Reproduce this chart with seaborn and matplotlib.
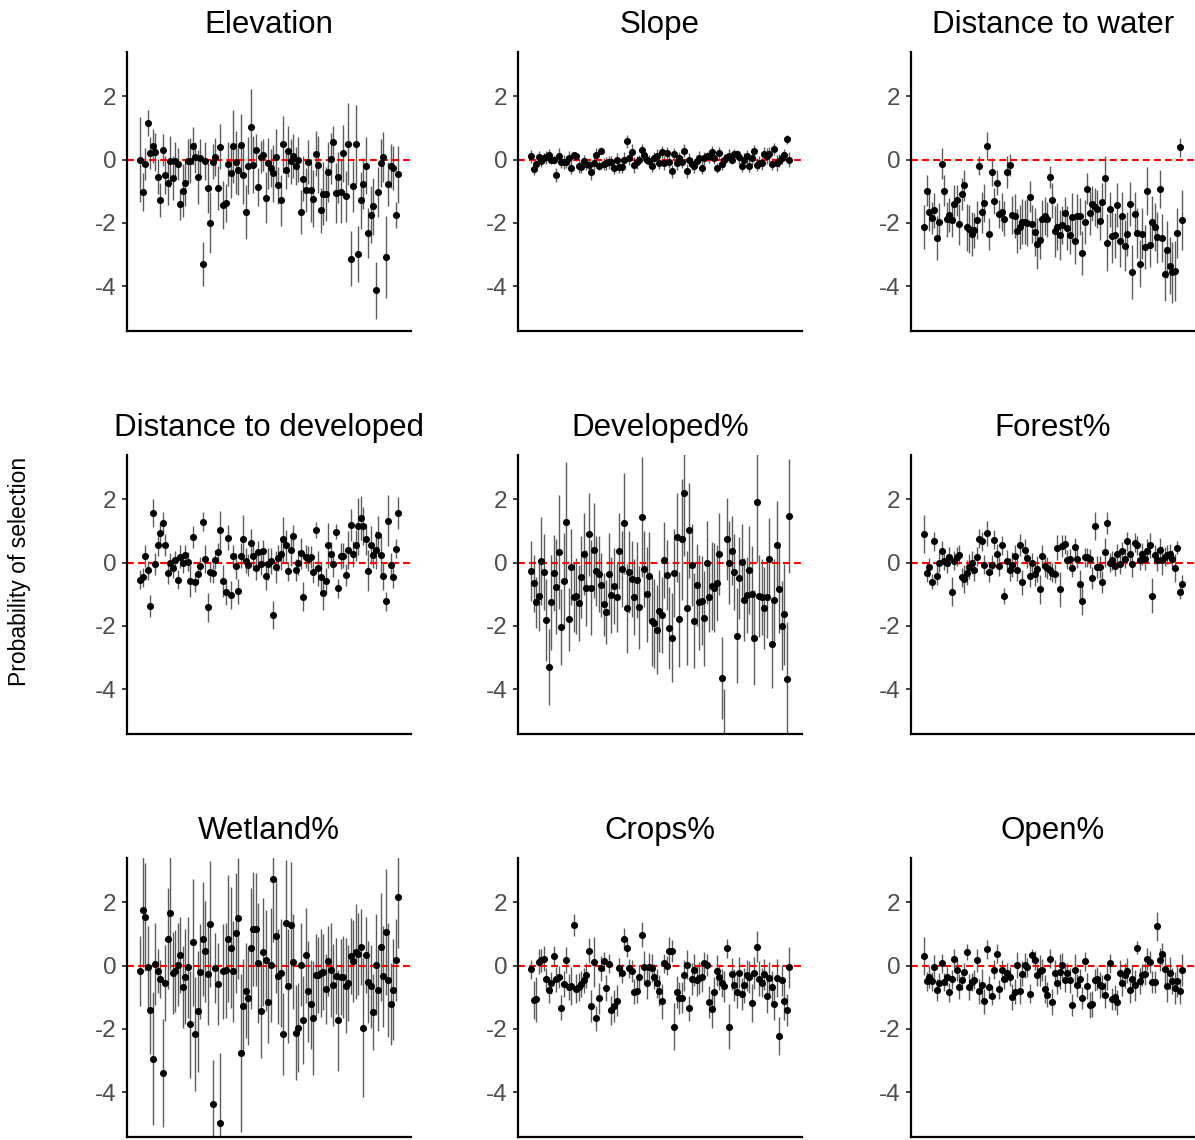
import numpy as np
import pandas as pd
import matplotlib
matplotlib.use("Agg")
import matplotlib.pyplot as plt
import seaborn as sns

# Panel titles (covariates)
titles = ["Elevation", "Slope", "Distance to water",
          "Distance to developed", "Developed%", "Forest%",
          "Wetland%", "Crops%", "Open%"]

# Per-individual selection coefficients and 95% CI half-widths
elevation_est = [
    0.0, -1.02, -0.15, 1.16, 0.2, 0.43, 0.25, -0.54, -1.28, 0.3,
    -0.48, -0.75, -0.06, -0.58, -0.06, -0.14, -1.42, -0.98, -0.73, -0.05,
    -0.03, 0.43, 0.07, -0.54, 0.05, -3.3, -0.05, -0.9, -1.99, -0.07,
    0.07, -0.9, 0.41, -1.44, -1.38, -0.15, -0.41, 0.42, -0.09, -0.33,
    0.45, -0.49, -1.65, -0.2, 1.04, -0.17, 0.3, -0.86, 0.09, 0.14,
    -1.2, -0.12, -0.28, -0.43, 0.07, -0.82, -1.29, 0.48, -0.33, 0.26,
    -0.06, 0.12, -0.21, 0.0, -1.65, -0.6, -0.97, -0.07, -0.97, -1.24,
    0.19, -0.17, -1.61, -1.08, -1.08, -0.38, 0.03, 0.56, -1.07, -0.56,
    -1.01, 0.2, -1.16, 0.49, -3.13, -0.85, 0.48, -2.98, -1.29, -0.76,
    -0.2, -2.32, -1.75, -1.47, -4.13, -1.03, -0.11, 0.08, -3.08, -0.78,
    -0.2, -0.26, -1.75, -0.46]
elevation_err = [
    1.35, 0.6, 0.5, 0.4, 0.5, 0.55, 0.6, 0.55, 0.55, 0.5,
    0.6, 0.7, 0.8, 0.7, 0.6, 0.5, 0.5, 0.85, 0.75, 0.7,
    0.7, 0.6, 0.5, 0.85, 0.6, 0.7, 0.6, 0.8, 0.95, 0.55,
    0.6, 0.7, 0.7, 0.75, 0.6, 0.7, 0.8, 1.15, 1.0, 0.8,
    1.0, 0.9, 0.85, 0.9, 1.2, 0.9, 0.5, 0.6, 0.5, 0.5,
    0.8, 0.8, 0.6, 0.9, 0.9, 0.6, 0.8, 0.9, 0.6, 0.8,
    0.7, 0.7, 0.6, 0.7, 0.7, 0.7, 0.7, 0.7, 1.0, 0.9,
    0.7, 0.9, 0.7, 1.0, 0.85, 0.95, 0.8, 0.5, 0.95, 0.8,
    1.0, 0.9, 0.8, 1.3, 0.88, 0.8, 1.25, 0.88, 0.9, 0.8,
    0.9, 0.8, 0.9, 0.9, 0.9, 0.8, 0.75, 0.8, 1.3, 0.7,
    0.7, 0.7, 0.4, 0.9]

slope_est = [
    0.1, -0.3, -0.15, 0.07, -0.03, 0.05, 0.07, 0.13, 0.0, 0.0,
    -0.5, 0.12, -0.08, -0.07, -0.08, 0.05, -0.26, 0.13, 0.1, -0.21,
    -0.24, -0.05, -0.14, -0.18, -0.39, -0.12, 0.15, -0.19, 0.28, -0.14,
    -0.12, -0.09, -0.09, -0.26, 0.0, -0.24, -0.22, 0.0, 0.58, 0.04,
    0.23, -0.16, -0.09, 0.0, 0.3, 0.14, 0.0, -0.05, -0.2, 0.04,
    0.12, -0.12, 0.24, -0.1, 0.21, -0.07, -0.37, 0.18, -0.1, 0.05,
    -0.08, 0.28, -0.37, 0.0, -0.14, -0.21, -0.03, 0.06, -0.26, 0.04,
    0.1, 0.1, 0.24, 0.05, -0.26, 0.2, -0.14, -0.02, 0.07, 0.12,
    0.0, 0.18, 0.16, 0.07, -0.2, 0.0, 0.1, -0.19, 0.04, 0.26,
    -0.16, -0.1, -0.12, 0.16, 0.12, 0.16, -0.14, 0.33, -0.12, -0.03,
    0.05, 0.14, 0.64, 0.0]
slope_err = [
    0.2, 0.18, 0.15, 0.2, 0.2, 0.15, 0.2, 0.2, 0.15, 0.15,
    0.22, 0.25, 0.2, 0.22, 0.2, 0.22, 0.2, 0.12, 0.15, 0.2,
    0.2, 0.2, 0.2, 0.2, 0.25, 0.2, 0.2, 0.15, 0.12, 0.2,
    0.2, 0.2, 0.2, 0.2, 0.22, 0.2, 0.2, 0.25, 0.2, 0.2,
    0.25, 0.25, 0.2, 0.15, 0.2, 0.2, 0.15, 0.2, 0.2, 0.2,
    0.2, 0.18, 0.2, 0.22, 0.2, 0.2, 0.2, 0.2, 0.22, 0.2,
    0.2, 0.2, 0.22, 0.2, 0.2, 0.2, 0.18, 0.2, 0.2, 0.2,
    0.15, 0.2, 0.2, 0.2, 0.15, 0.2, 0.2, 0.2, 0.15, 0.2,
    0.15, 0.15, 0.15, 0.2, 0.2, 0.2, 0.2, 0.2, 0.2, 0.2,
    0.2, 0.2, 0.2, 0.25, 0.25, 0.25, 0.2, 0.2, 0.25, 0.2,
    0.2, 0.2, 0.15, 0.25]

water_est = [
    -2.14, -0.98, -1.67, -1.85, -1.61, -2.48, -1.96, -0.13, -0.98, -1.89,
    -1.75, -1.9, -1.42, -1.29, -2.05, -1.08, -0.82, -2.14, -2.2, -2.36,
    -2.24, -1.9, -0.2, -1.67, -1.36, 0.43, -2.36, -0.39, -1.31, -0.73,
    -1.72, -1.67, -1.87, -0.39, -0.18, -1.74, -1.79, -2.27, -2.14, -1.96,
    -1.98, -1.99, -1.17, -2.03, -2.29, -2.66, -2.54, -1.89, -1.79, -1.89,
    -0.54, -1.29, -2.27, -2.12, -2.38, -2.08, -1.69, -2.17, -2.38, -1.82,
    -2.59, -1.79, -1.8, -2.96, -1.97, -0.92, -1.68, -1.4, -1.49, -1.57,
    -1.93, -1.35, -0.58, -2.63, -1.57, -2.42, -2.4, -1.43, -2.59, -1.77,
    -2.72, -2.36, -1.41, -3.56, -1.73, -2.32, -3.29, -2.34, -2.76, -1.0,
    -2.69, -1.96, -2.13, -2.46, -0.92, -2.48, -3.62, -2.85, -3.36, -3.57,
    -3.53, -2.32, 0.39, -1.9]
water_err = [
    0.7, 0.5, 0.6, 0.5, 0.55, 0.7, 0.6, 0.5, 0.5, 0.55,
    0.55, 0.55, 0.6, 0.5, 0.65, 0.5, 0.5, 0.75, 0.75, 0.7,
    0.55, 0.6, 0.3, 0.65, 0.6, 0.45, 0.5, 0.45, 0.4, 0.4,
    0.45, 0.6, 0.55, 0.5, 0.35, 0.6, 0.7, 0.7, 0.7, 0.7,
    0.7, 0.75, 0.5, 0.6, 0.75, 0.8, 0.6, 0.6, 0.6, 0.55,
    0.35, 0.55, 0.8, 0.75, 0.8, 0.6, 0.5, 0.7, 0.6, 0.75,
    0.7, 0.7, 0.6, 0.7, 0.7, 0.5, 0.7, 0.55, 0.6, 0.6,
    0.6, 0.6, 0.7, 0.9, 0.55, 0.85, 0.7, 0.7, 0.8, 0.75,
    0.8, 0.7, 0.7, 0.85, 0.7, 0.8, 0.75, 0.8, 0.7, 0.75,
    0.7, 0.8, 0.75, 0.8, 0.6, 0.75, 0.85, 0.9, 0.9, 0.95,
    0.95, 0.8, 0.3, 0.95]

dist_dev_est = [
    -0.55, -0.47, 0.22, -0.24, -1.37, 1.56, -0.05, 0.56, 0.93, 1.24,
    0.56, -0.34, 0.0, -0.18, 0.08, -0.54, 0.19, -0.02, 0.24, 0.03,
    -0.58, 0.8, -0.63, -0.35, -0.11, 1.29, 0.12, -1.42, -0.31, -0.34,
    0.09, 0.33, 1.03, -0.58, -0.94, 0.79, -1.02, 0.21, -0.11, -0.91,
    0.22, 0.75, 0.06, -0.09, 0.61, 0.21, -0.16, 0.32, -0.05, 0.37,
    -0.41, -0.05, 0.05, -1.65, -0.14, 0.14, 0.28, 0.73, 0.54, -0.28,
    0.4, 0.85, -0.23, 0.0, 0.29, -1.08, 0.19, 0.12, 0.18, -0.31,
    1.02, -0.18, -0.47, -0.95, -0.58, 0.54, 0.26, -0.05, 0.98, -0.81,
    0.21, 0.22, -0.39, 0.39, 1.19, 0.27, 0.54, 1.15, 1.4, 1.15,
    0.73, -0.26, 0.56, 0.24, 0.39, 0.87, 0.24, -0.43, -1.23, 1.32,
    -0.09, -0.46, 0.44, 1.56]
dist_dev_err = [
    0.3, 0.3, 0.35, 0.3, 0.35, 0.45, 0.35, 0.35, 0.35, 0.35,
    0.35, 0.35, 0.3, 0.3, 0.3, 0.3, 0.35, 0.3, 0.3, 0.3,
    0.5, 0.35, 0.3, 0.3, 0.3, 0.3, 0.45, 0.45, 0.3, 0.3,
    0.3, 0.3, 0.6, 0.5, 0.4, 0.4, 0.45, 0.35, 0.4, 0.4,
    0.4, 0.75, 0.4, 0.35, 0.45, 0.45, 0.4, 0.35, 0.35, 0.35,
    0.45, 0.5, 0.4, 0.45, 0.5, 0.4, 0.5, 0.7, 0.5, 0.3,
    0.5, 0.35, 0.35, 0.4, 0.5, 0.45, 0.35, 0.4, 0.35, 0.35,
    0.25, 0.55, 0.5, 0.55, 0.4, 0.7, 0.4, 0.4, 0.25, 0.3,
    0.4, 0.4, 0.35, 0.6, 0.5, 0.4, 0.5, 0.9, 0.7, 0.6,
    0.5, 0.65, 0.6, 0.4, 0.6, 0.6, 0.6, 0.45, 0.3, 0.8,
    0.4, 0.35, 0.3, 0.5]

developed_est = [
    -0.27, -0.66, -1.26, -1.05, 0.05, -0.31, -1.82, -3.31, -1.25, -0.34,
    -0.77, 0.33, -2.05, -0.57, 1.29, -1.8, -0.14, -1.1, -1.06, -1.27,
    -0.46, 0.26, -0.79, 0.89, -0.79, 0.39, -0.26, -0.35, -0.71, -1.32,
    -1.56, -0.37, -1.04, -0.73, -1.09, 0.36, -0.2, 1.24, -1.45, -0.29,
    -0.52, -1.08, -0.54, -1.42, 1.43, -0.2, -1.0, -0.44, -1.86, -1.92,
    -2.12, -1.54, -1.66, 0.07, -0.39, -2.07, -2.37, -0.33, 0.8, -1.8,
    0.73, 2.2, -1.45, 1.02, -0.07, -1.84, -0.71, -1.26, -1.2, -1.76,
    0.0, -1.1, -0.74, -0.79, -0.64, 0.28, -3.66, -5.6, 0.75, 0.0,
    0.38, -0.31, -2.31, -0.49, 0.03, -1.17, -1.04, -0.23, -0.98, -2.37,
    1.93, -1.05, -1.1, -1.43, -1.08, 0.11, -2.58, -1.18, 0.54, -0.83,
    -1.99, -1.63, -3.68, 1.47]
developed_err = [
    0.95, 0.9, 0.8, 1.1, 1.4, 1.2, 1.3, 1.2, 1.5, 1.2,
    1.5, 1.8, 1.2, 1.5, 1.9, 1.0, 1.2, 1.1, 1.2, 1.2,
    1.3, 1.3, 1.2, 1.3, 1.5, 1.5, 1.1, 1.2, 1.0, 1.0,
    1.0, 1.3, 1.2, 1.2, 1.1, 1.2, 1.2, 1.6, 1.4, 1.3,
    1.2, 1.2, 1.2, 1.3, 1.9, 1.2, 1.5, 1.4, 1.4, 1.4,
    1.4, 1.3, 1.2, 1.2, 1.1, 1.3, 1.4, 1.4, 1.4, 1.5,
    1.9, 2.0, 1.8, 1.5, 1.3, 1.5, 1.3, 1.5, 1.4, 1.5,
    1.3, 1.1, 1.4, 1.4, 1.2, 1.3, 1.3, 1.6, 1.3, 1.3,
    1.1, 1.2, 1.5, 1.3, 1.2, 1.3, 1.2, 1.4, 1.5, 1.5,
    1.9, 1.3, 1.2, 1.3, 1.3, 1.3, 1.4, 1.3, 1.4, 1.4,
    1.4, 1.6, 1.8, 1.8]

forest_est = [
    0.91, -0.32, -0.15, -0.6, 0.68, -0.41, 0.0, 0.38, 0.05, -0.02,
    0.18, -0.92, 0.05, 0.19, 0.24, -0.47, -0.52, -0.32, -0.13, 0.0,
    -0.23, 0.18, 0.75, 0.68, -0.07, 0.92, -0.31, -0.07, 0.72, 0.28,
    -0.12, 0.55, -1.05, 0.05, -0.22, -0.07, 0.22, -0.22, 0.56, -0.62,
    0.39, 0.14, -0.43, 0.0, -0.35, -0.2, -0.85, 0.2, -0.12, -0.18,
    -0.25, -0.32, -0.35, 0.47, -0.85, 0.51, 0.58, 0.09, 0.12, -0.16,
    0.48, 0.12, -0.68, -1.2, 0.16, 0.16, 0.12, -0.48, 1.16, -0.15,
    -0.13, -0.62, 0.32, 1.24, 0.0, 0.07, -0.11, 0.28, -0.05, 0.35,
    0.12, 0.68, 0.28, -0.05, 0.62, 0.54, 0.07, 0.28, 0.11, 0.38,
    0.54, -1.05, 0.24, 0.09, 0.39, 0.07, 0.18, 0.24, 0.28, 0.11,
    -0.18, 0.47, -0.94, -0.68]
forest_err = [
    0.6, 0.3, 0.3, 0.25, 0.3, 0.3, 0.3, 0.3, 0.3, 0.3,
    0.3, 0.45, 0.3, 0.3, 0.3, 0.3, 0.45, 0.4, 0.4, 0.35,
    0.35, 0.3, 0.3, 0.3, 0.3, 0.4, 0.3, 0.3, 0.3, 0.3,
    0.3, 0.3, 0.25, 0.35, 0.35, 0.4, 0.35, 0.35, 0.35, 0.4,
    0.35, 0.3, 0.35, 0.3, 0.4, 0.4, 0.45, 0.35, 0.35, 0.35,
    0.3, 0.3, 0.3, 0.4, 0.55, 0.35, 0.3, 0.3, 0.3, 0.3,
    0.3, 0.3, 0.45, 0.45, 0.3, 0.3, 0.3, 0.35, 0.45, 0.35,
    0.35, 0.35, 0.45, 0.35, 0.3, 0.3, 0.3, 0.3, 0.3, 0.3,
    0.3, 0.3, 0.35, 0.4, 0.3, 0.3, 0.3, 0.35, 0.35, 0.35,
    0.4, 0.55, 0.3, 0.35, 0.4, 0.45, 0.3, 0.3, 0.3, 0.3,
    0.45, 0.2, 0.2, 0.3]

wetland_est = [
    -0.18, 1.75, 1.53, -0.05, -1.4, -2.94, 0.06, -0.18, -0.41, -3.4,
    -0.54, 0.85, 1.66, -0.24, -0.18, 0.03, 0.32, -0.68, -0.35, -0.06,
    -1.86, 0.73, -2.16, -1.45, -0.2, 0.85, 0.45, -0.28, 1.32, -4.38,
    -0.07, -0.59, -4.97, -0.18, -0.15, 0.85, 0.57, -0.18, 1.03, 1.49,
    -2.77, -1.29, -0.8, -1.01, 0.54, 1.15, 1.14, 0.07, -1.43, 0.43,
    0.16, -1.16, 0.01, 2.74, 0.94, -0.34, -0.23, -2.16, 1.34, -0.66,
    1.28, 0.12, -2.12, -1.96, 0.03, -1.72, 0.33, -0.81, -1.23, -1.67,
    -0.29, -0.31, -0.24, -0.21, -0.74, 0.14, -0.14, -0.61, -0.33, -1.73,
    -0.35, -0.37, -0.64, -0.54, 0.29, 0.14, 0.44, 0.37, 0.6, -1.96,
    0.32, -0.52, -0.66, -1.46, 0.03, -0.77, 0.58, -0.34, 1.06, -0.46,
    -1.21, -0.76, 0.18, 2.17]
wetland_err = [
    1.1, 1.8, 1.7, 1.3, 1.4, 2.1, 1.3, 0.7, 0.6, 1.7,
    1.2, 1.6, 1.8, 1.3, 1.3, 1.3, 1.2, 1.3, 1.5, 1.6,
    1.7, 2.0, 1.8, 1.9, 1.5, 1.8, 1.6, 1.6, 2.0, 1.4,
    1.1, 1.3, 2.2, 1.5, 1.5, 2.0, 1.9, 1.6, 1.9, 1.9,
    2.5, 1.5, 1.5, 1.5, 1.9, 1.8, 1.8, 1.9, 1.5, 1.7,
    1.6, 1.3, 1.8, 2.0, 1.8, 1.5, 1.7, 1.3, 2.0, 1.8,
    2.0, 1.5, 1.5, 1.4, 1.3, 1.4, 1.5, 1.6, 1.4, 1.8,
    1.3, 1.2, 1.4, 1.2, 1.1, 1.1, 1.5, 1.3, 1.2, 1.6,
    1.2, 1.3, 1.5, 1.2, 1.2, 1.3, 1.5, 1.3, 1.2, 2.2,
    1.2, 1.3, 1.3, 1.2, 1.6, 1.3, 1.7, 1.6, 2.0, 1.8,
    1.3, 1.6, 1.3, 1.6]

crops_est = [
    -0.12, -1.09, -1.07, 0.12, 0.16, 0.22, -0.43, -0.77, -0.56, 0.31,
    -0.43, -0.35, -1.33, -0.58, 0.18, -0.68, -0.66, 1.29, -0.73, -0.67,
    -0.58, -0.47, -0.31, 0.47, -1.28, 0.11, -1.67, -1.04, -0.09, 0.14,
    -0.71, 0.06, -1.42, -1.28, -1.11, -0.07, -0.24, 0.85, 0.56, -0.09,
    -0.16, -0.83, -0.79, -0.37, 0.98, -0.03, -0.56, -0.05, -0.07, -0.35,
    -0.56, -0.79, -1.13, 0.07, 0.0, 0.45, 0.45, -1.93, -0.83, -1.02,
    -1.01, -0.31, 0.03, -1.35, -0.43, -0.14, -0.47, -0.39, -0.35, 0.08,
    0.03, -1.16, -1.36, -0.85, -0.16, -0.37, -0.55, -0.66, 0.54, -1.93,
    -0.27, -0.61, -0.83, -0.22, -0.89, -0.62, -0.31, -0.37, -1.17, -0.24,
    0.6, -0.41, -0.54, -0.28, -0.95, -0.39, -0.68, -1.23, -0.39, -2.23,
    -0.47, -1.13, -1.4, -0.05]
crops_err = [
    0.3, 0.6, 0.7, 0.4, 0.35, 0.4, 0.35, 0.4, 0.35, 0.3,
    0.4, 0.35, 0.4, 0.4, 0.4, 0.4, 0.6, 0.35, 0.45, 0.45,
    0.4, 0.4, 0.4, 0.4, 0.5, 0.8, 0.4, 0.5, 0.4, 0.3,
    0.4, 0.3, 0.45, 0.5, 0.5, 0.3, 0.3, 0.35, 0.3, 0.3,
    0.35, 0.4, 0.4, 0.4, 0.4, 0.5, 0.5, 0.45, 0.45, 0.4,
    0.45, 0.5, 0.55, 0.3, 0.3, 0.45, 0.35, 0.75, 0.5, 0.5,
    0.5, 0.5, 0.45, 0.4, 0.5, 0.5, 0.5, 0.5, 0.5, 0.35,
    0.35, 0.5, 0.6, 0.5, 0.5, 0.4, 0.45, 0.5, 0.3, 0.7,
    0.5, 0.5, 0.5, 0.5, 0.5, 0.55, 0.5, 0.5, 0.6, 0.5,
    0.5, 0.55, 0.45, 0.5, 0.55, 0.5, 0.5, 0.5, 0.6, 0.6,
    0.5, 0.6, 0.5, 0.65]

open_est = [
    0.31, -0.49, -0.36, -0.49, -0.03, -0.78, -0.55, 0.08, -0.52, -0.36,
    -0.84, -0.44, 0.22, -0.13, -0.67, -0.47, -0.21, 0.42, -0.68, -0.52,
    -0.45, 0.16, -0.82, -0.6, -1.13, 0.51, -0.68, -0.95, -0.14, 0.37,
    -0.75, -0.13, -0.43, -0.23, -0.35, -0.99, -0.83, 0.02, -0.8, -0.26,
    0.01, -0.06, -0.89, 0.32, 0.16, -0.29, -0.16, -0.13, -0.74, -0.92,
    0.21, -1.15, -0.22, -0.56, -0.2, 0.01, -0.45, -0.22, -0.47, -1.24,
    -0.13, -0.63, -0.41, -1.02, 0.14, -0.65, -1.25, -1.22, -0.47, -0.41,
    -0.61, -0.64, -0.93, -0.37, 0.08, -1.06, -1.0, -1.16, -0.23, -0.55,
    -0.31, -0.16, -0.78, -0.42, -0.63, 0.57, -0.49, -0.31, -0.26, 0.21,
    0.12, -0.52, -0.52, 1.24, 0.19, 0.37, -0.12, -0.64, -0.24, -0.49,
    -0.71, -0.48, -0.81, -0.15]
open_err = [
    0.6, 0.3, 0.35, 0.3, 0.35, 0.35, 0.3, 0.3, 0.3, 0.3,
    0.3, 0.3, 0.3, 0.35, 0.4, 0.3, 0.3, 0.25, 0.4, 0.3,
    0.3, 0.35, 0.4, 0.5, 0.4, 0.3, 0.35, 0.3, 0.3, 0.3,
    0.3, 0.3, 0.3, 0.3, 0.3, 0.4, 0.4, 0.4, 0.4, 0.4,
    0.4, 0.3, 0.3, 0.2, 0.3, 0.35, 0.5, 0.35, 0.45, 0.4,
    0.3, 0.4, 0.4, 0.35, 0.55, 0.4, 0.4, 0.3, 0.4, 0.35,
    0.5, 0.35, 0.3, 0.35, 0.3, 0.4, 0.4, 0.4, 0.35, 0.35,
    0.4, 0.35, 0.4, 0.4, 0.3, 0.35, 0.4, 0.4, 0.4, 0.4,
    0.4, 0.4, 0.4, 0.4, 0.5, 0.2, 0.4, 0.35, 0.35, 0.35,
    0.35, 0.35, 0.35, 0.45, 0.35, 0.35, 0.5, 0.5, 0.5, 0.4,
    0.5, 0.5, 0.4, 0.5]

panels = [
    (titles[0], elevation_est, elevation_err),
    (titles[1], slope_est, slope_err),
    (titles[2], water_est, water_err),
    (titles[3], dist_dev_est, dist_dev_err),
    (titles[4], developed_est, developed_err),
    (titles[5], forest_est, forest_err),
    (titles[6], wetland_est, wetland_err),
    (titles[7], crops_est, crops_err),
    (titles[8], open_est, open_err),
]

sns.set_style("ticks")
plt.rcParams["font.family"] = ["Liberation Sans", "DejaVu Sans"]
plt.rcParams["axes.unicode_minus"] = False

W, H = 1195, 1140
fig = plt.figure(figsize=(W / 100, H / 100), dpi=100)

col_left = [127, 518, 911]
row_top = [52, 455, 858]
aw, ah = 284, 279

for i, (title, est, err) in enumerate(panels):
    r, c = divmod(i, 3)
    ax = fig.add_axes([col_left[c] / W, 1 - (row_top[r] + ah) / H, aw / W, ah / H])
    df = pd.DataFrame({"id": np.arange(len(est)), "est": est, "err": err})
    df["lo"] = df["est"] - df["err"]
    df["hi"] = df["est"] + df["err"]

    ax.vlines(df["id"], df["lo"], df["hi"], color="#5c5c5c", lw=1.0, zorder=1)
    ax.axhline(0, color="#ff0000", ls=(0, (3.3, 2.0)), lw=1.5, zorder=2)
    sns.scatterplot(data=df, x="id", y="est", ax=ax, color="black",
                    s=26, linewidth=0, zorder=3, legend=False)

    ax.set_xlim(-5.3, len(est) - 1 + 5.0)
    ax.set_ylim(-5.42, 3.4)
    ax.set_xticks([])
    ax.set_yticks([2, 0, -2, -4])
    ax.set_yticklabels(["2", "0", "-2", "-4"])
    ax.set_xlabel("")
    ax.set_ylabel("")
    ax.tick_params(axis="y", length=3.8, width=1.3, color="#333333",
                   labelsize=17.5, labelcolor="#4d4d4d", pad=4)
    for side in ["top", "right"]:
        ax.spines[side].set_visible(False)
    for side in ["left", "bottom"]:
        ax.spines[side].set_linewidth(1.6)
        ax.spines[side].set_color("black")
    ax.set_title(title, fontsize=22.5, pad=14, color="black")

fig.text(20 / W, 1 - 571 / H, "Probability of selection", rotation=90,
         ha="center", va="center", fontsize=16.5, color="black")

fig.savefig("out.png", dpi=100)
